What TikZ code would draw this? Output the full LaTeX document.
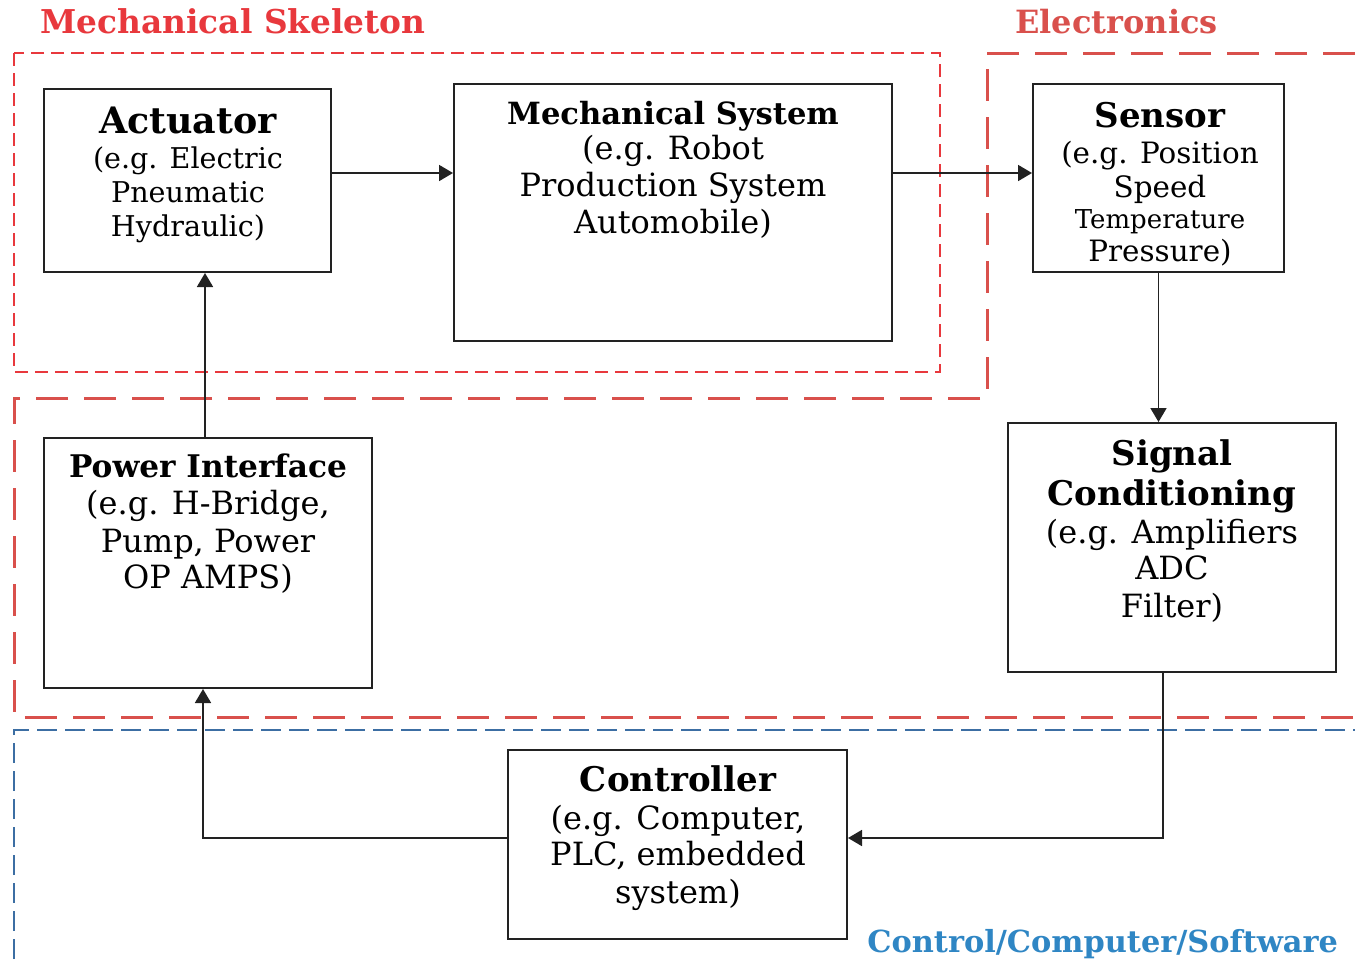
\documentclass[tikz,border=0pt]{standalone}
\usepackage{fontspec}
\setmainfont{DejaVu Serif}
\usetikzlibrary{arrows.meta}
\definecolor{mred}{HTML}{E8383D}
\definecolor{ered}{HTML}{D9504C}
\definecolor{cblue}{HTML}{2F86C4}
\definecolor{lblue}{HTML}{3C6EA3}
\definecolor{ink}{HTML}{222222}
\tikzset{
  px/.style={x=0.5pt,y=-0.5pt},
  blk/.style={draw=ink,line width=1pt,inner sep=0pt},
  ttl/.style={font=\fontsize{17}{20}\selectfont\bfseries,inner sep=0pt,anchor=base},
  sub/.style={font=\fontsize{14.3}{17}\selectfont,inner sep=0pt,anchor=base},
  subl/.style={font=\fontsize{16}{19}\selectfont,inner sep=0pt,anchor=base},
  grp/.style={font=\fontsize{15.5}{18}\selectfont\bfseries,inner sep=0pt,anchor=base west},
  conn/.style={draw=ink,line width=0.9pt,-{Triangle[length=7pt,width=8pt]}},
  mechdash/.style={draw=mred,line width=0.75pt,dash pattern=on 6.5pt off 3.5pt},
  elecdash/.style={draw=ered,line width=1.5pt,dash pattern=on 16pt off 8pt},
  ctrldash/.style={draw=lblue,line width=1pt,dash pattern=on 10pt off 4pt},
}
\begin{document}
\begin{tikzpicture}[px]
\useasboundingbox (0,0) rectangle (1355,959);
% group frames
\draw[mechdash] (14,53) rectangle (940,372);
\draw[elecdash] (1355,53) -- (987,53) -- (987,398) -- (14,398) -- (14,717) -- (1355,717);
\draw[ctrldash] (14,959) -- (14,730) -- (1355,730);
% group labels
\node[grp,text=mred,font=\fontsize{16.4}{18}\selectfont\bfseries] (lmech) at (40,33) {Mechanical Skeleton};
\node[grp,text=ered,font=\fontsize{16}{18}\selectfont\bfseries] (lelec) at (1015,33) {Electronics};
\node[grp,text=cblue,font=\fontsize{15.2}{18}\selectfont\bfseries] (lctrl) at (867,952) {Control/Computer/Software};
% boxes
\node[blk,minimum width=287pt*0.5,minimum height=183pt*0.5] (act) at (187.5,180.5) {};
\node[blk,minimum width=438pt*0.5,minimum height=257pt*0.5] (mech) at (673,212.5) {};
\node[blk,minimum width=251pt*0.5,minimum height=188pt*0.5] (sens) at (1158.5,178) {};
\node[blk,minimum width=328pt*0.5,minimum height=250pt*0.5] (pow) at (208,563) {};
\node[blk,minimum width=328pt*0.5,minimum height=249pt*0.5] (sig) at (1172,547.5) {};
\node[blk,minimum width=339pt*0.5,minimum height=189pt*0.5] (ctl) at (677.5,844.5) {};
% texts
\node[ttl,font=\fontsize{18.2}{20}\selectfont\bfseries] (actt) at (188,133) {Actuator};
\node[sub] (act1) at (188,168) {(e.g. Electric};
\node[sub] (act2) at (188,202) {Pneumatic};
\node[sub] (act3) at (188,236) {Hydraulic)};
\node[ttl,font=\fontsize{15.3}{18}\selectfont\bfseries] (mecht) at (673,124) {Mechanical System};
\node[subl] (mech1) at (673,159) {(e.g. Robot};
\node[subl] (mech2) at (673,196) {Production System};
\node[subl] (mech3) at (673,233) {Automobile)};
\node[ttl] (senst) at (1160,127) {Sensor};
\node[sub,font=\fontsize{14.7}{17}\selectfont] (sens1) at (1160,163) {(e.g. Position};
\node[sub,font=\fontsize{14.7}{17}\selectfont] (sens2) at (1160,197) {Speed};
\node[sub,font=\fontsize{13}{14}\selectfont] (sens3) at (1160,228) {Temperature};
\node[sub,font=\fontsize{14.7}{17}\selectfont] (sens4) at (1160,261) {Pressure)};
\node[ttl,font=\fontsize{15.6}{18}\selectfont\bfseries] (powt) at (208,477) {Power Interface};
\node[subl] (pow1) at (208,514) {(e.g. H-Bridge,};
\node[subl] (pow2) at (208,552) {Pump, Power};
\node[subl] (pow3) at (208,588) {OP AMPS)};
\node[ttl] (sigt) at (1172,465) {Signal};
\node[ttl] (sigt2) at (1172,505) {Conditioning};
\node[subl] (sig1) at (1172,543) {(e.g. Amplifiers};
\node[subl] (sig2) at (1172,579) {ADC};
\node[subl] (sig3) at (1172,617) {Filter)};
\node[ttl] (ctlt) at (678,791) {Controller};
\node[subl] (ctl1) at (678,829) {(e.g. Computer,};
\node[subl] (ctl2) at (678,865) {PLC, embedded};
\node[subl] (ctl3) at (678,903) {system)};
% connectors
\coordinate (r1) at (331,173);
\coordinate (r2) at (892,173);
\draw[conn] (r1) -- (mech.west |- r1);
\draw[conn] (r2) -- (sens.west |- r2);
\draw[conn] (sens.south) -- (sig.north -| sens.south);
\coordinate (sigb) at (1163,672);
\coordinate (c1) at (1163,838);
\draw[conn] (sigb) -- (c1) -- (ctl.east |- c1);
\coordinate (c2) at (203,838);
\draw[conn] (ctl.west |- c2) -- (c2) -- (pow.south -| c2);
\coordinate (pt) at (205,438);
\draw[conn] (pt) -- (act.south -| pt);
\end{tikzpicture}
\end{document}
